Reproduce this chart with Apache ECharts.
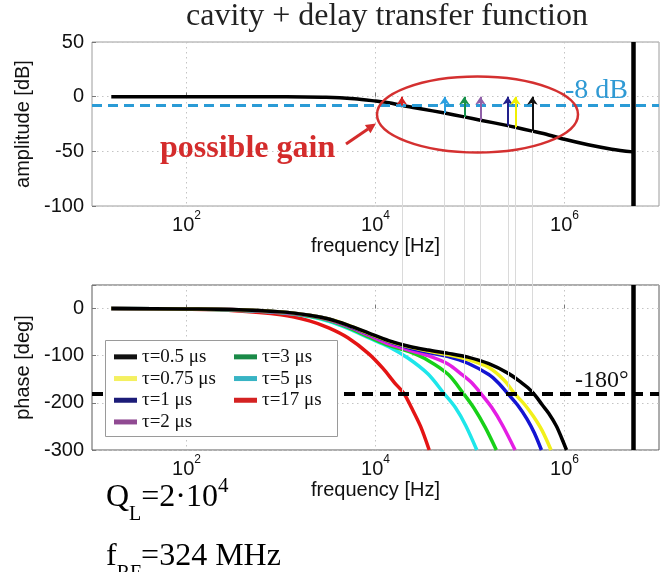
<!DOCTYPE html>
<html>
<head>
<meta charset="utf-8">
<script src="https://cdn.jsdelivr.net/npm/echarts@6/dist/echarts.min.js"></script>
<style>
html, body { margin: 0; padding: 0; background: #fff; }
#chart { width: 663px; height: 572px; }
</style>
</head>
<body>
<div id="chart"></div>
<script>
// upper plot: cavity amplitude [Hz, dB]
var ampCurve = [[16,0],[300,0],[1000,-0.1],[3000,-0.6],[6000,-2],[10000,-4],[13800,-5.5],[19000,-8],
    [30000,-11],[54000,-15],[87000,-18.5],[129000,-21.5],[251000,-26.5],[302000,-28],[457000,-31.5],
    [680000,-35],[1000000,-39],[1780000,-44],[3160000,-48],[5300000,-50.5]];
var cutFreq = 5300000;
var gainLevel = -8;
var phaseLevel = -180;

// lower plot: phase [Hz, deg] for each delay
var phase05 = [[16,0],[100,-1],[300,-2],[1000,-7],[2000,-14],[3200,-22],[5100,-35],[8500,-52],[13800,-68],
    [22400,-80],[36000,-88],[59000,-95],[95000,-103],[158000,-117],[257000,-138],[355000,-158],[410000,-168],
    [470000,-180],[520000,-191],[580000,-204],[680000,-222],[820000,-249],[930000,-274],[1050000,-300]];
var phase075 = [[16,0],[100,-1],[300,-2],[1000,-7],[2000,-14],[3200,-22],[5100,-35],[8500,-53],[13800,-69],
    [22400,-81],[36000,-90],[59000,-98],[95000,-108],[158000,-125],[230000,-152],[295000,-180],[380000,-204],
    [470000,-229],[580000,-259],[720000,-300]];
var phase1 = [[16,0],[100,-1],[300,-2],[1000,-7],[2000,-14],[3200,-22],[5100,-36],[8500,-54],[13800,-70],
    [22400,-83],[36000,-93],[59000,-102],[95000,-116],[158000,-140],[200000,-158],[250000,-180],[320000,-205],
    [400000,-234],[480000,-264],[570000,-300]];
var phase2 = [[16,0],[100,-1],[300,-2],[1000,-8],[2000,-15],[3200,-24],[5100,-38],[8500,-57],[13800,-75],
    [22400,-88],[36000,-100],[59000,-118],[81000,-139],[105000,-158],[130000,-180],[170000,-210],
    [220000,-247],[300000,-300]];
var phase3 = [[16,0],[100,-1],[300,-2.5],[1000,-8],[2000,-16],[3200,-25],[5100,-40],[8500,-60],[13800,-78],
    [22400,-91],[36000,-110],[59000,-140],[85000,-180],[110000,-211],[145000,-252],[190000,-300]];
var phase5 = [[16,0],[100,-1],[300,-3],[1000,-9],[2000,-17],[3200,-27],[5100,-42],[8500,-62],[13800,-81],
    [22400,-106],[36000,-139],[53000,-180],[70000,-210],[90000,-248],[118000,-300]];
var phase17 = [[16,0],[100,-1.5],[300,-4],[1000,-13],[2000,-26],[3200,-41],[5100,-62],[8500,-96],
    [12000,-127],[16000,-158],[20000,-180],[24000,-210],[30000,-250],[37000,-300]];

var tauNames = ['τ=0.5 μs', 'τ=0.75 μs', 'τ=1 μs', 'τ=2 μs', 'τ=3 μs', 'τ=5 μs', 'τ=17 μs'];
var tauData = [phase05, phase075, phase1, phase2, phase3, phase5, phase17];
var tauColors = ['#000000', '#f2f01a', '#1414d2', '#e41ee4', '#18d018', '#1ee6ea', '#e41414'];
var legendColors = ['#111111', '#f4f060', '#1c1c78', '#904a92', '#1a8a48', '#38b4c4', '#d42222'];

// -180 deg crossings, and where the amplitude curve is at those frequencies
var crossFreq = [19000, 54000, 87000, 129000, 251000, 302000, 457000];
var crossAmp = [-8, -15, -18.5, -21.5, -26.5, -28, -31.5];
var arrowColors = ['#d42222', '#2a9fe0', '#16904a', '#9060a8', '#22208c', '#f0f000', '#111111'];
var arrowTop = 0;

var decadeTicks = [100, 10000, 1000000];

var sans = 'Liberation Sans';
var serif = 'Liberation Serif';
var dotted = { color: '#c4c4c4', type: [1.5, 3.5], width: 1 };
var faint = { color: '#dadada', width: 1, type: 'solid' };

function xAxisCfg(grid) {
    return {
        type: 'log', logBase: 10, min: 10, max: 1e7, gridIndex: grid,
        name: 'frequency [Hz]', nameLocation: 'middle', nameGap: 30,
        nameTextStyle: { fontFamily: sans, fontSize: 20, color: '#111' },
        axisLine: { show: false },
        axisTick: { customValues: decadeTicks, inside: true, length: 4, lineStyle: { color: '#777' } },
        splitLine: { show: true, lineStyle: dotted },
        minorTick: { show: false },
        axisLabel: {
            customValues: decadeTicks, margin: 4, color: '#111',
            formatter: function (v) { return '{b|10}{s|' + Math.round(Math.log10(v)) + '}'; },
            rich: {
                b: { fontFamily: sans, fontSize: 20, color: '#111', padding: [5, 0, 0, 0] },
                s: { fontFamily: sans, fontSize: 12, color: '#111', verticalAlign: 'top' }
            }
        }
    };
}

function yAxisCfg(grid, name, min, max, step, hideMax) {
    return {
        type: 'value', gridIndex: grid, min: min, max: max, interval: step,
        name: name, nameLocation: 'middle', nameGap: 47,
        nameTextStyle: { fontFamily: sans, fontSize: 20, color: '#111' },
        axisLine: { show: false },
        axisTick: { inside: true, length: 4, lineStyle: { color: '#777' } },
        splitLine: { show: true, lineStyle: dotted },
        axisLabel: {
            fontFamily: sans, fontSize: 20, color: '#111', margin: 8,
            formatter: function (v) { return (hideMax && v === max) ? '' : String(v); }
        }
    };
}

var topFaint = crossFreq.map(function (f, i) {
    return [{ coord: [f, -100], lineStyle: faint }, { coord: [f, crossAmp[i]] }];
});
var bottomFaint = crossFreq.map(function (f) {
    return [{ coord: [f, phaseLevel], lineStyle: faint }, { coord: [f, 50] }];
});
var gapFaint = crossFreq.map(function (f) {
    return [{ coord: [f, 0], lineStyle: faint }, { coord: [f, 1] }];
});
var arrows = crossFreq.map(function (f, i) {
    return [{ coord: [f, crossAmp[i]], lineStyle: { color: arrowColors[i], width: 2, type: 'solid' },
              itemStyle: { color: arrowColors[i] } },
            { coord: [f, arrowTop], itemStyle: { color: arrowColors[i] } }];
});
var cutLine = { xAxis: cutFreq, lineStyle: { color: '#000', width: 4.5, type: 'solid' } };

var series = [
    {
        type: 'line', xAxisIndex: 0, yAxisIndex: 0, data: [], z: 1,
        markLine: {
            silent: true, symbol: 'none', animation: false, label: { show: false },
            data: topFaint.concat([
                { yAxis: gainLevel, lineStyle: { color: '#2a9bd6', width: 3, type: [10, 6] } },
                cutLine
            ])
        }
    },
    {
        type: 'line', xAxisIndex: 2, yAxisIndex: 2, data: [], z: 1,
        markLine: { silent: true, symbol: 'none', animation: false, label: { show: false }, data: gapFaint }
    },
    {
        type: 'line', xAxisIndex: 1, yAxisIndex: 1, data: [], z: 1,
        markLine: {
            silent: true, symbol: 'none', animation: false, label: { show: false },
            data: bottomFaint.concat([
                { yAxis: phaseLevel, lineStyle: { color: '#000', width: 4, type: [11, 7] } },
                cutLine
            ])
        }
    },
    {
        name: 'amplitude', type: 'line', xAxisIndex: 0, yAxisIndex: 0, data: ampCurve, z: 3,
        showSymbol: false, smooth: 0.3,
        lineStyle: { color: '#000', width: 3.5 }, itemStyle: { color: '#000' },
        markLine: {
            silent: true, symbol: ['none', 'arrow'], symbolSize: 8, animation: false,
            label: { show: false }, data: arrows
        }
    }
];
// draw the longest delay first so that the short ones lie on top
for (var i = tauNames.length - 1; i >= 0; i--) {
    series.push({
        name: tauNames[i], type: 'line', xAxisIndex: 1, yAxisIndex: 1, data: tauData[i], z: 3,
        showSymbol: false, smooth: 0.3,
        lineStyle: { color: tauColors[i], width: 3.5 }, itemStyle: { color: tauColors[i] }
    });
}

function legendCfg(names, left) {
    return {
        orient: 'vertical', left: left, top: 346, padding: 0, itemGap: 0, z: 20,
        icon: 'rect', itemWidth: 23, itemHeight: 5, selectedMode: false,
        textStyle: { fontFamily: serif, fontSize: 19, color: '#111', lineHeight: 21.7 },
        data: names.map(function (n) {
            return { name: n, itemStyle: { color: legendColors[tauNames.indexOf(n)] } };
        })
    };
}

var subRich = {
    m: { fontFamily: serif, fontSize: 32, lineHeight: 32, color: '#000', padding: [10, 0, 0, 0], verticalAlign: 'top' },
    d: { fontFamily: serif, fontSize: 20, lineHeight: 20, color: '#000', padding: [33, 0, 0, 0], verticalAlign: 'top' },
    u: { fontFamily: serif, fontSize: 21, lineHeight: 21, color: '#000', padding: [4, 0, 0, 0], verticalAlign: 'top' }
};

var option = {
    animation: false,
    backgroundColor: '#fff',
    grid: [
        { left: 92, right: 4, top: 42, height: 164, show: true, borderColor: '#9c9c9c', borderWidth: 1, backgroundColor: 'transparent' },
        { left: 92, right: 4, top: 285, height: 165, show: true, borderColor: '#5a5a5a', borderWidth: 1, backgroundColor: 'transparent' },
        { left: 92, right: 4, top: 206, height: 79, show: false }
    ],
    xAxis: [xAxisCfg(0), xAxisCfg(1), { type: 'log', logBase: 10, min: 10, max: 1e7, gridIndex: 2, show: false }],
    yAxis: [
        yAxisCfg(0, 'amplitude [dB]', -100, 50, 50, false),
        yAxisCfg(1, 'phase [deg]', -300, 50, 100, true),
        { type: 'value', gridIndex: 2, min: 0, max: 1, show: false }
    ],
    legend: [legendCfg(tauNames.slice(0, 4), 114), legendCfg(tauNames.slice(4), 234)],
    series: series,
    graphic: [
        { type: 'text', x: 387, y: 17, style: { text: 'cavity + delay transfer function', font: '32px "Liberation Serif"', fill: '#222', align: 'center', verticalAlign: 'middle' } },
        { type: 'text', x: 565, y: 90.5, z: 10, style: { text: '-8 dB', font: '28px "Liberation Serif"', fill: '#2f9ad4', align: 'left', verticalAlign: 'middle' } },
        { type: 'text', x: 575, y: 381, z: 10, style: { text: '-180°', font: '24px "Liberation Serif"', fill: '#111', align: 'left', verticalAlign: 'middle' } },
        { type: 'text', x: 160, y: 149, z: 10, style: { text: 'possible gain', font: 'bold 32px "Liberation Serif"', fill: '#d42c2c', align: 'left', verticalAlign: 'middle' } },
        { type: 'ellipse', z: 10, shape: { cx: 477.5, cy: 114.5, rx: 100.5, ry: 38 }, style: { fill: 'none', stroke: '#d43030', lineWidth: 2.5 } },
        { type: 'line', z: 10, shape: { x1: 346, y1: 144, x2: 368, y2: 129 }, style: { stroke: '#d42c2c', lineWidth: 3 } },
        { type: 'polygon', z: 10, shape: { points: [[376, 123.5], [370.5, 133.2], [364.9, 125]] }, style: { fill: '#d42c2c' } },
        { type: 'rect', z: 15, shape: { x: 105.5, y: 340.5, width: 232, height: 96 }, style: { fill: '#fff', stroke: '#9a9a9a', lineWidth: 1 } },
        { type: 'text', x: 106, y: 472, z: 10, style: { text: '{m|Q}{d|L}{m|=2·10}{u|4}', rich: subRich, align: 'left', verticalAlign: 'top' } },
        { type: 'text', x: 106, y: 530.5, z: 10, style: { text: '{m|f}{d|RF}{m|=324 MHz}', rich: subRich, align: 'left', verticalAlign: 'top' } }
    ]
};

var chart = echarts.init(document.getElementById('chart'));
chart.setOption(option);
</script>
</body>
</html>
